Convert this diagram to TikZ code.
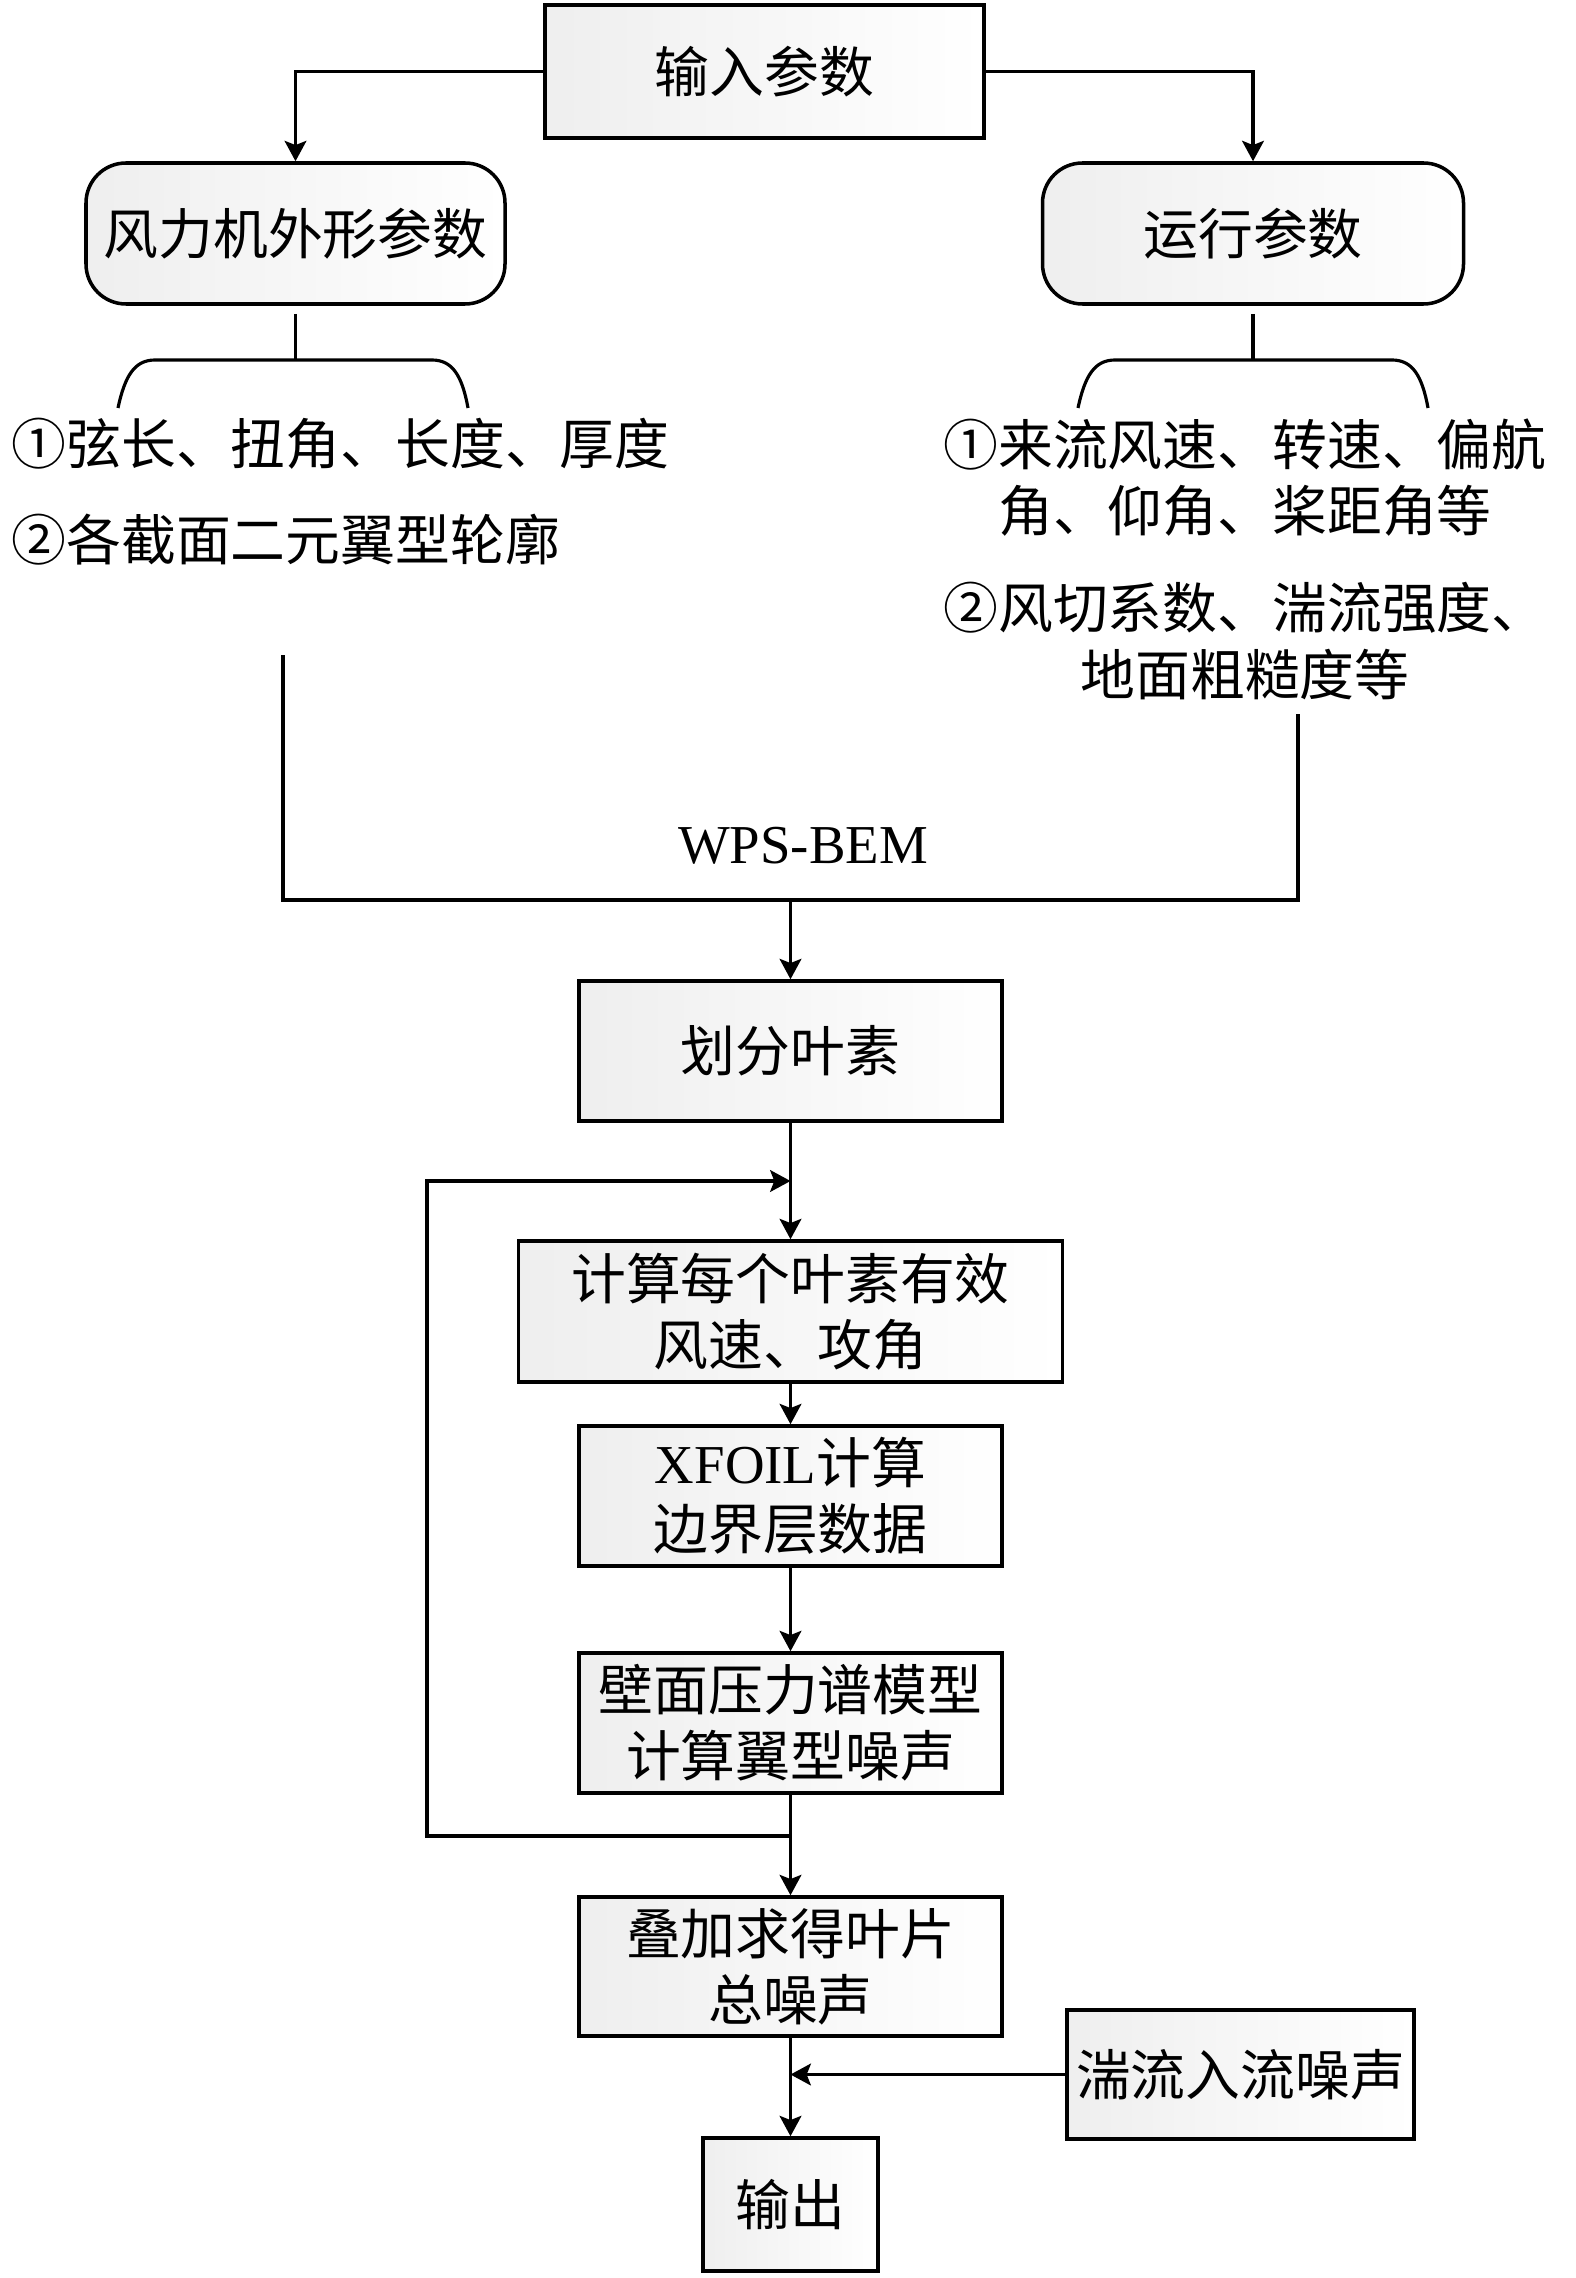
\documentclass[tikz,border=0pt]{standalone}
\usepackage{fontspec}
\setmainfont{Liberation Serif}
\newfontfamily\cjk{Noto Sans CJK SC}
\newfontfamily\latin{Liberation Serif}
\usetikzlibrary{arrows.meta}

\begin{document}
\begin{tikzpicture}[
  >={Stealth[length=5.8pt,width=6.2pt,inset=1.2pt]},
  line width=0.9pt,
  every node/.style={inner sep=0pt, font=\cjk\fontsize{15.6pt}{18.8pt}\selectfont},
  box/.style={draw, line width=1pt, left color=gray!13, right color=white, align=center, minimum width=4.23cm, minimum height=1.40cm},
  rbox/.style={box, rounded corners=0.4cm, minimum height=1.41cm},
  txt/.style={align=center}
]
\useasboundingbox (0,0) rectangle (15.75,-22.78);
% input and the two parameter groups
\node[box, minimum width=4.39cm, minimum height=1.33cm] (input) at (7.645,-0.715) {输入参数};
\node[rbox, minimum width=4.19cm] (shape) at (2.955,-2.335) {风力机外形参数};
\node[rbox, minimum width=4.21cm] (oper) at (12.53,-2.335) {运行参数};
\draw[->] (input.west) -| (shape.north);
\draw[->] (input.east) -| (oper.north);
% braces
\coordinate (shapeFork) at (2.955,-3.60);
\coordinate (operFork) at (12.53,-3.60);
\draw ([yshift=-0.8mm]shape.south) -- (shapeFork);
\draw ([yshift=-0.8mm]oper.south) -- (operFork);
\draw (1.18,-4.08) .. controls (1.25,-3.75) and (1.35,-3.60) .. (1.55,-3.60) -- (4.32,-3.60) .. controls (4.52,-3.60) and (4.62,-3.75) .. (4.68,-4.08);
\draw (10.78,-4.08) .. controls (10.85,-3.75) and (10.95,-3.60) .. (11.15,-3.60) -- (13.92,-3.60) .. controls (14.12,-3.60) and (14.22,-3.75) .. (14.28,-4.08);
\node[anchor=west] (shapeA) at (0.10,-4.44) {①弦长、扭角、长度、厚度};
\node[anchor=west] (shapeB) at (0.10,-5.40) {②各截面二元翼型轮廓};
\node[txt] (operA) at (12.45,-4.78) {①来流风速、转速、偏航\\角、仰角、桨距角等};
\node[txt] (operB) at (12.45,-6.41) {②风切系数、湍流强度、\\地面粗糙度等};
% WPS-BEM
\coordinate (shapeEnd) at (2.83,-6.55);
\coordinate (operEnd) at (12.98,-7.14);
\coordinate (bemL) at (2.83,-9.00);
\coordinate (bemR) at (12.98,-9.00);
\coordinate (bem) at (7.905,-9.00);
\draw (shapeEnd) -- (bemL) -- (bemR) -- (operEnd);
\node[font=\latin\fontsize{15.6pt}{18.8pt}\selectfont] (bemLabel) at (8.03,-8.46) {WPS-BEM};
% main chain
\node[box] (div) at (7.905,-10.51) {划分叶素};
\node[box, minimum width=5.44cm, minimum height=1.41cm] (calc) at (7.905,-13.115) {计算每个叶素有效\\风速、攻角};
\node[box] (xfoil) at (7.905,-14.96) {{\latin XFOIL}计算\\边界层数据};
\node[box] (wall) at (7.905,-17.23) {壁面压力谱模型\\计算翼型噪声};
\node[box, minimum height=1.39cm] (sum) at (7.905,-19.665) {叠加求得叶片\\总噪声};
\node[box, minimum width=3.47cm, minimum height=1.29cm] (turb) at (12.405,-20.745) {湍流入流噪声};
\node[box, minimum width=1.75cm, minimum height=1.33cm] (out) at (7.905,-22.045) {输出};
\draw[->] (bem) -- (div.north);
\draw[->] (div.south) -- (calc.north);
\draw[->] (calc.south) -- (xfoil.north);
\draw[->] (xfoil.south) -- (wall.north);
\draw[->] (wall.south) -- (sum.north);
\draw[->] (sum.south) -- (out.north);
\draw[->] (turb.west) -- (turb.west -| out.north);
% loop over the blade elements
\coordinate (loopTop) at (7.905,-11.81);
\coordinate (loopBot) at (7.905,-18.36);
\coordinate (loopL) at (4.27,-18.36);
\draw[->] (loopBot) -- (loopL) |- (loopTop);
\end{tikzpicture}
\end{document}
